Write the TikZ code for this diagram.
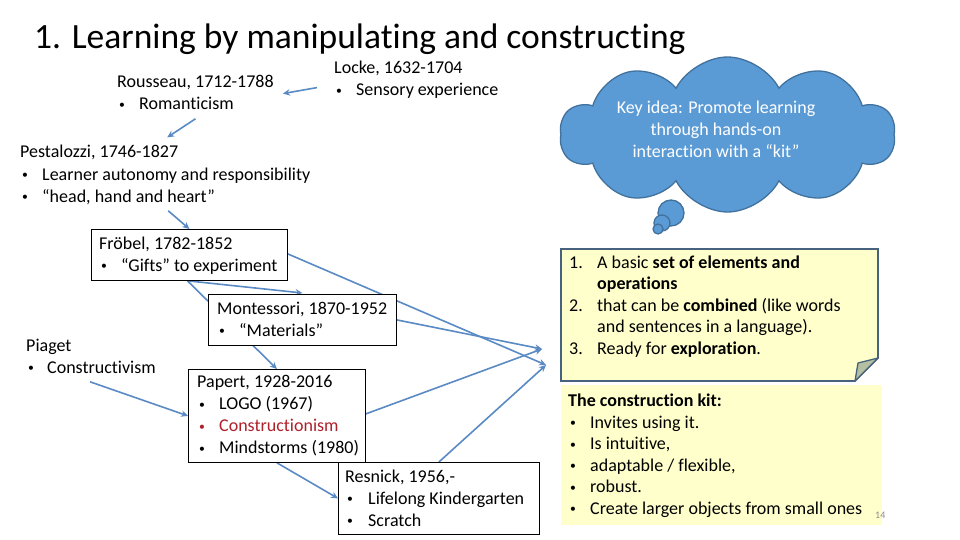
\documentclass[tikz,border=0pt]{standalone}
\usepackage{fontspec}
\setmainfont{Carlito}[Ligatures=NoCommon]
\usetikzlibrary{shapes.symbols,arrows.meta,backgrounds}
\definecolor{arrowc}{HTML}{5A8AC4}
\definecolor{cloudfill}{HTML}{5B9BD5}
\definecolor{cloudline}{HTML}{41719C}
\definecolor{notefill}{HTML}{FFFFCC}
\definecolor{noteline}{HTML}{46627E}
\definecolor{foldfill}{HTML}{B5BFA1}
\definecolor{kitfill}{HTML}{FFFFCC}
\definecolor{darkred}{HTML}{B0202A}
\definecolor{pagegray}{HTML}{8C8C8C}
\newcommand\bul{\raisebox{1.2pt}{\scalebox{0.65}{•}}}
\newcommand\itm[1]{\makebox[22pt][l]{\hspace{2pt}\bul}#1}
\begin{document}
\begin{tikzpicture}[x=1pt,y=-1pt,
  txt/.style={inner sep=0pt, anchor=base west, font=\fontsize{18}{22}\selectfont},
  notetxt/.style={inner sep=0pt, anchor=base west, font=\fontsize{18}{21.5}\selectfont},
  box/.style={draw=black, line width=0.8pt, fill=white, inner sep=0pt, anchor=north west},
  conn/.style={draw=arrowc, line width=1.6pt, -{Stealth[length=7pt,width=6.5pt]}},
  bubble/.style={draw=cloudline, fill=cloudfill, line width=1.3pt}]
\useasboundingbox (0,0) rectangle (960,540);

% title
\node[inner sep=0pt, anchor=base west, font=\fontsize{35.5}{40}\selectfont] (title) at (34,49)
  {1. Learning by manipulating and constructing};

% free text blocks
\node[txt] (rousseau) at (117,88) {\begin{tabular}[t]{@{}l@{}}Rousseau, 1712-1788\\\itm{Romanticism}\end{tabular}};
\node[txt] (locke) at (334,74) {\begin{tabular}[t]{@{}l@{}}Locke, 1632-1704\\\itm{Sensory experience}\end{tabular}};
\node[txt] (pestalozzi) at (20,158) {\begin{tabular}[t]{@{}l@{}}Pestalozzi, 1746-1827\\\itm{Learner autonomy and responsibility}\\\itm{“head, hand and heart”}\end{tabular}};
\node[txt] (piaget) at (26,351) {\begin{tabular}[t]{@{}l@{}}Piaget\\\makebox[21pt][l]{\hspace{2pt}\bul}Constructivism\end{tabular}};

% boxes
\node[box, minimum width=196pt, minimum height=51pt] (froebel) at (91,229) {};
\node[box, minimum width=188pt, minimum height=51pt] (montessori) at (208,294) {};
\node[box, minimum width=177pt, minimum height=93pt] (papert) at (188,369) {};
\node[box, minimum width=201pt, minimum height=72pt] (resnick) at (338,462) {};

\node[txt] (froebelT) at (99,249) {\begin{tabular}[t]{@{}l@{}}Fröbel, 1782-1852\\\itm{“Gifts” to experiment}\end{tabular}};
\node[txt] (montessoriT) at (217,314) {\begin{tabular}[t]{@{}l@{}}Montessori, 1870-1952\\\itm{“Materials”}\end{tabular}};
\node[txt] (papertT) at (197,387.5) {\begin{tabular}[t]{@{}l@{}}Papert, 1928-2016\\\itm{LOGO (1967)}\\\textcolor{darkred}{\itm{Constructionism}}\\\itm{Mindstorms (1980)}\end{tabular}};
\node[txt] (resnickT) at (345,482) {\begin{tabular}[t]{@{}l@{}}Resnick, 1956,-\\\makebox[23pt][l]{\hspace{2pt}\bul}Lifelong Kindergarten\\\makebox[23pt][l]{\hspace{2pt}\bul}Scratch\end{tabular}};

% cloud
\node[cloud, cloud puffs=10, cloud puff arc=125, cloud ignores aspect,
      minimum width=335pt, minimum height=155pt, bubble, inner sep=0pt] (cloud) at (727.5,134.5) {};
\node[bubble, circle, minimum size=26pt, inner sep=0pt] (bub1) at (671,213) {};
\node[bubble, circle, minimum size=16pt, inner sep=0pt] (bub2) at (662,223) {};
\node[bubble, circle, minimum size=10pt, inner sep=0pt] (bub3) at (658,229) {};
\node[inner sep=0pt, anchor=base, text=white, font=\fontsize{18}{22}\selectfont] (cloudT) at (716,114)
  {\begin{tabular}[t]{@{}c@{}}Key idea: Promote learning\\through hands-on\\interaction with a “kit”\end{tabular}};

% note with folded corner
\path[draw=noteline, fill=notefill, line width=1.6pt, line join=miter]
  (561,249) -- (878,249) -- (878,358) -- (855,381) -- (561,381) -- cycle;
\path[draw=noteline, fill=foldfill, line width=1.3pt, line join=round]
  (878,358) -- (858,363) -- (855,381) -- cycle;
\node[notetxt] (noteT) at (569,268) {\begin{tabular}[t]{@{}l@{}}%
\makebox[28pt][l]{1.}A basic \textbf{set of elements and}\\
\hspace*{28pt}\textbf{operations}\\
\makebox[28pt][l]{2.}that can be \textbf{combined} (like words\\
\hspace*{28pt}and sentences in a language).\\
\makebox[28pt][l]{3.}Ready for \textbf{exploration}.\end{tabular}};

% construction kit box
\path[fill=kitfill] (561,385) rectangle (882,525);
\node[notetxt] (kitT) at (568,406.5) {\begin{tabular}[t]{@{}l@{}}%
\textbf{The construction kit:}\\
\itm{Invites using it.}\\
\itm{Is intuitive,}\\
\itm{adaptable / flexible,}\\
\itm{robust.}\\
\itm{Create larger objects from small ones}\end{tabular}};

\node[inner sep=0pt, anchor=base west, text=pagegray, font=\fontsize{10}{12}\selectfont] (pagenum) at (875,518) {14};

\coordinate (kitA) at (542,349);
\coordinate (kitB) at (546,365);

% connectors
\begin{pgfonlayer}{background}
\draw[conn] ([shift={(-17,7)}]locke.west) -- ([shift={(9,-1)}]rousseau.east);
\draw[conn] ([shift={(0,2)}]rousseau.south) -- ([shift={(2,-5)}]pestalozzi.north);
\draw[conn] ([shift={(3,2)}]pestalozzi.south) -- (froebel.north);
\draw[conn] ([shift={(-2,0)}]froebel.south) -- ([shift={(0,-1)}]montessori.north);
\draw[conn] ([shift={(-2,0)}]froebel.south) -- (papert.north);
\draw[conn] ([shift={(0,-1)}]froebel.east) -- (kitB);
\draw[conn] (montessori.east) -- (kitA);
\draw[conn] ([shift={(0,-2)}]papert.east) -- (kitA);
\draw[conn] (resnick.north) -- (kitB);
\draw[conn] (papert.south) -- (resnick.west);
\draw[conn] ([shift={(-1,2)}]piaget.south) -- (papert.west);
\end{pgfonlayer}
\end{tikzpicture}
\end{document}
